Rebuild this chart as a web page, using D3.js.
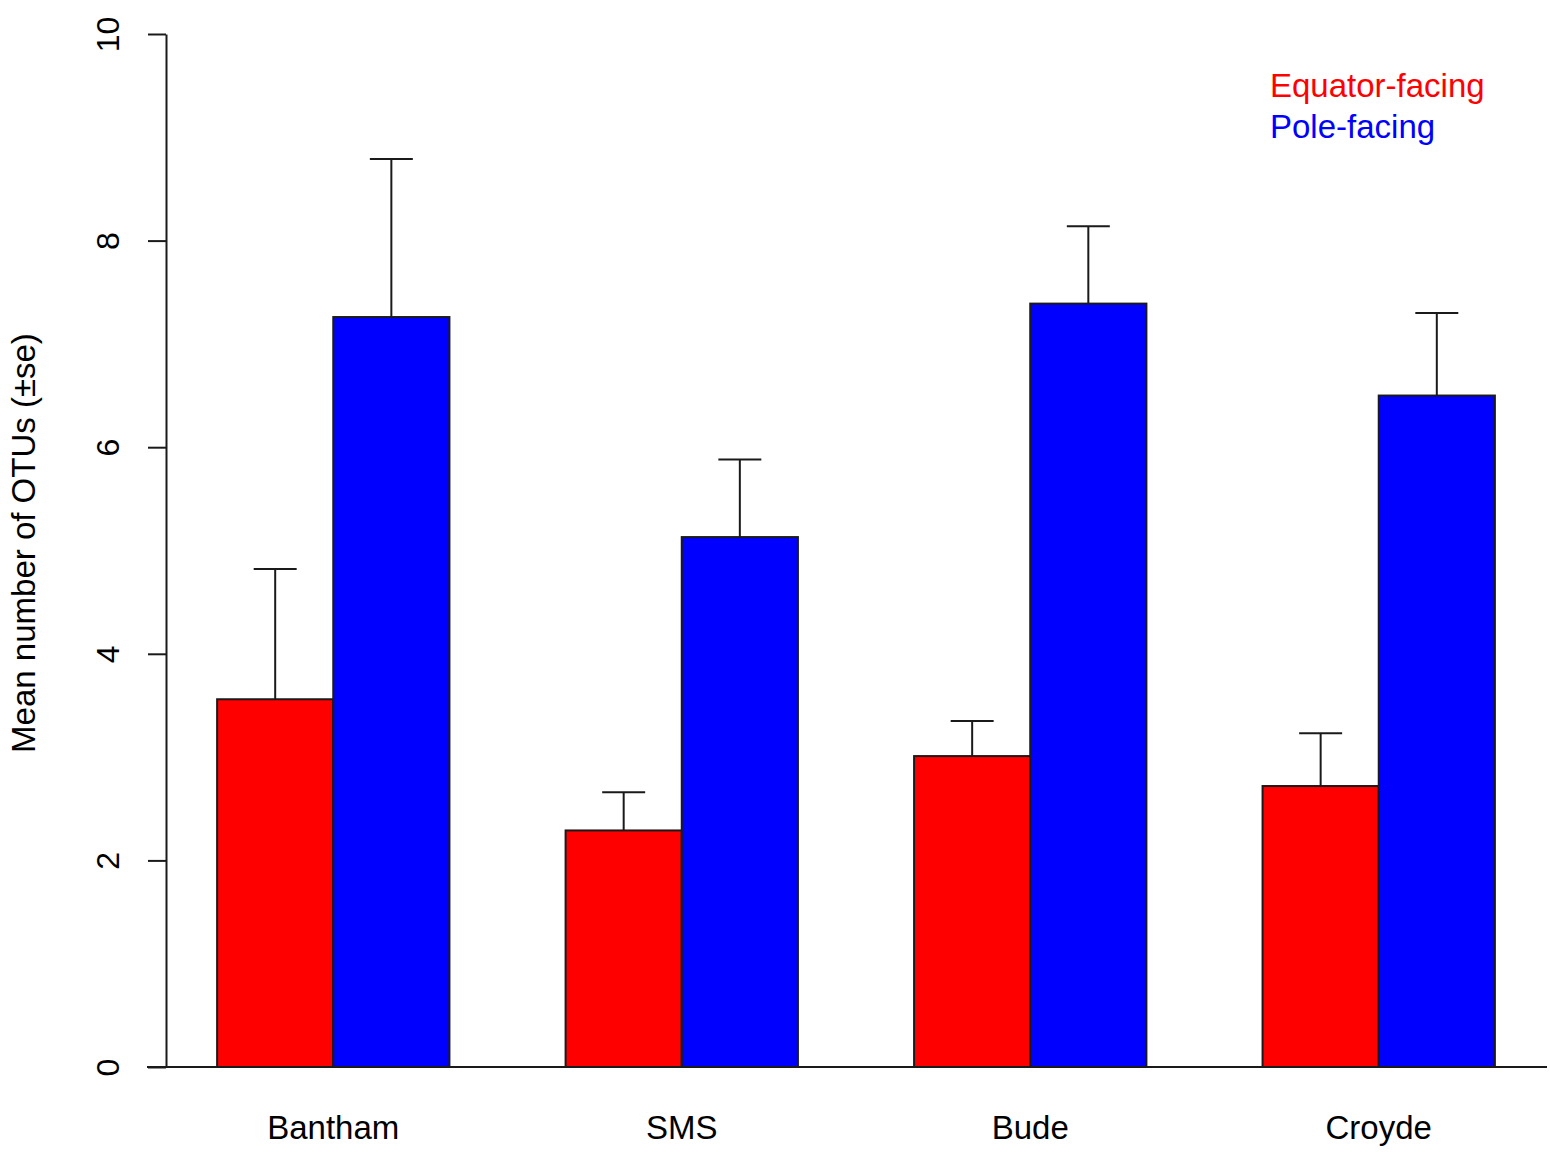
<!DOCTYPE html>
<html>
<head>
<meta charset="utf-8">
<script src="https://cdn.jsdelivr.net/npm/d3@7"></script>
<style>
  html, body { margin: 0; padding: 0; background: #fff; }
  svg text { font-family: "Liberation Sans", Arial, sans-serif; }
</style>
</head>
<body>
<svg id="chart" width="1550" height="1152"></svg>
<script>
// Sites and the two aspect series (mean OTUs and standard error)
const sites = ["Bantham", "SMS", "Bude", "Croyde"];
const seriesNames = ["Equator-facing", "Pole-facing"];
const seriesColors = ["#ff0000", "#0000ff"];
const equatorMean = [3.56, 2.29, 3.01, 2.72];
const equatorSE   = [1.26, 0.37, 0.34, 0.51];
const poleMean    = [7.26, 5.13, 7.39, 6.50];
const poleSE      = [1.53, 0.75, 0.75, 0.80];
const yTicks = [0, 2, 4, 6, 8, 10];

const means = [equatorMean, poleMean];
const ses = [equatorSE, poleSE];

const svg = d3.select("#chart");

// Bar-unit positions: each group has two bars of width 1, separated by one bar of space
const x = d3.scaleLinear().domain([0.56, 12.44]).range([166, 1546]);
const y = d3.scaleLinear().domain([0, 10]).range([1067, 34]);

const bars = [];
sites.forEach((s, i) => {
  seriesNames.forEach((n, j) => {
    const left = 1 + 3 * i + j;
    bars.push({ site: s, series: j, left: left, value: means[j][i], se: ses[j][i] });
  });
});

// Error bars (upper only), drawn beneath the bars
const capHalf = 0.185;
const eb = svg.append("g").attr("stroke", "#1a1a1a").attr("stroke-width", 2).attr("fill", "none");
bars.forEach(b => {
  const cx = x(b.left + 0.5);
  eb.append("line").attr("x1", cx).attr("x2", cx).attr("y1", y(b.value)).attr("y2", y(b.value + b.se));
  eb.append("line").attr("x1", x(b.left + 0.5 - capHalf)).attr("x2", x(b.left + 0.5 + capHalf))
    .attr("y1", y(b.value + b.se)).attr("y2", y(b.value + b.se));
});

// Bars
svg.append("g").selectAll("rect").data(bars).join("rect")
  .attr("x", d => x(d.left))
  .attr("width", d => x(d.left + 1) - x(d.left))
  .attr("y", d => y(d.value))
  .attr("height", d => y(0) - y(d.value))
  .attr("fill", d => seriesColors[d.series])
  .attr("stroke", "#1a1a1a")
  .attr("stroke-width", 2);

// Baseline
svg.append("line").attr("x1", 147).attr("x2", 1547).attr("y1", y(0)).attr("y2", y(0))
  .attr("stroke", "#1a1a1a").attr("stroke-width", 2);

// Y axis with rotated tick labels
const yAxis = svg.append("g").attr("transform", "translate(166,0)")
  .call(d3.axisLeft(y).tickValues(yTicks).tickSize(18).tickSizeOuter(0).tickFormat(d3.format("d")));
yAxis.select(".domain").attr("stroke", "#1a1a1a").attr("stroke-width", 2);
yAxis.selectAll(".tick line").attr("stroke", "#1a1a1a").attr("stroke-width", 2);
yAxis.selectAll(".tick text")
  .attr("x", null).attr("dy", null)
  .attr("transform", "translate(-47,0) rotate(-90)")
  .attr("text-anchor", "middle")
  .attr("font-size", 32)
  .attr("fill", "#000");

// Y axis title
svg.append("text")
  .attr("transform", "translate(35,543) rotate(-90)")
  .attr("text-anchor", "middle")
  .attr("font-size", 33)
  .attr("fill", "#000")
  .text("Mean number of OTUs (\u00B1se)");

// Site labels under each group
svg.append("g").selectAll("text").data(sites).join("text")
  .attr("x", (d, i) => x(2 + 3 * i))
  .attr("y", 1139)
  .attr("text-anchor", "middle")
  .attr("font-size", 33)
  .attr("fill", "#000")
  .text(d => d);

// Legend as coloured text
svg.append("g").selectAll("text").data(seriesNames).join("text")
  .attr("x", 1270)
  .attr("y", (d, i) => 97 + i * 41)
  .attr("font-size", 33)
  .attr("fill", (d, i) => seriesColors[i])
  .text(d => d);
</script>
</body>
</html>
